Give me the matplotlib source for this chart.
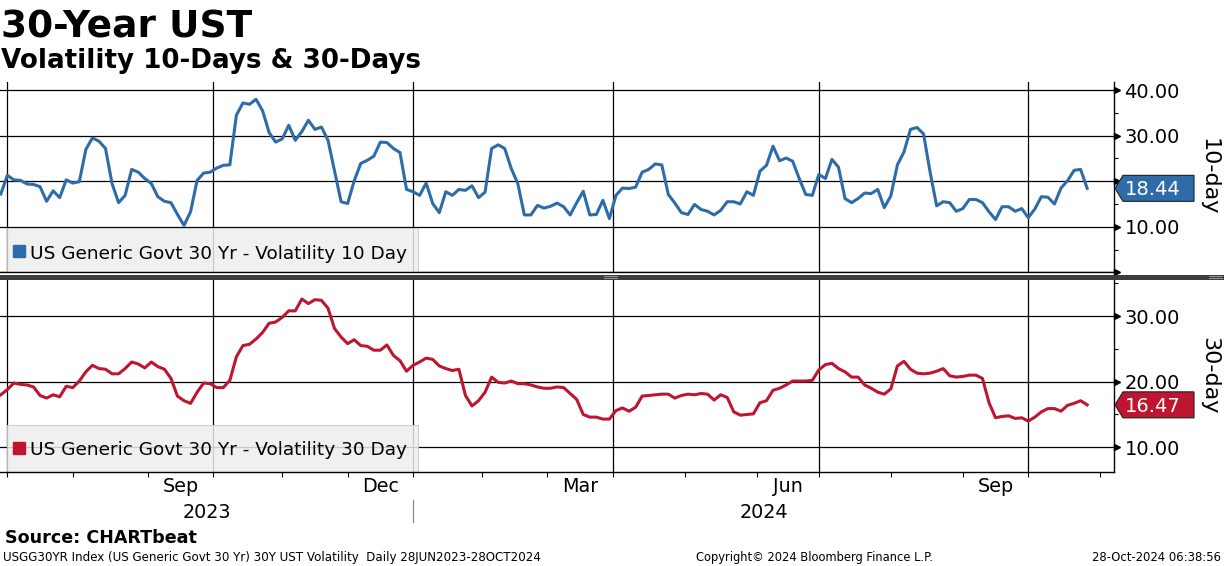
import numpy as np
import pandas as pd
import matplotlib
matplotlib.use("Agg")
import matplotlib.pyplot as plt
from matplotlib.patches import Polygon, Rectangle
from matplotlib.lines import Line2D
from matplotlib.transforms import blended_transform_factory, ScaledTranslation, IdentityTransform

plt.rcParams["font.family"] = ["DejaVu Sans"]

W, H, DPI = 1224, 566, 100

# bond market closures - bloomberg leaves them off the time axis
holidays = ["2023-07-04", "2023-09-04", "2023-10-09", "2023-11-10", "2023-11-23",
            "2023-12-25", "2024-01-01", "2024-01-15", "2024-02-19", "2024-03-29",
            "2024-05-27", "2024-06-19", "2024-07-04", "2024-09-02", "2024-10-14",
            "2024-11-11", "2024-11-28"]
first_day, last_day = "2023-06-28", "2024-10-28"

# every other trading day, last point = 28 Oct 2024
vol10 = [17.2, 21.3, 20.3, 20.2, 19.4, 19.3, 18.8, 15.6, 17.9, 16.4,
         20.3, 19.6, 19.9, 27.0, 29.5, 28.8, 27.2, 19.5, 15.3, 16.9,
         22.6, 22.0, 20.6, 19.5, 16.6, 15.6, 15.3, 12.7, 10.3, 13.3,
         20.2, 21.8, 22.0, 22.9, 23.5, 23.6, 34.5, 37.2, 36.9, 38.0,
         35.5, 30.7, 28.6, 29.3, 32.3, 29.0, 30.9, 33.4, 31.4, 31.9,
         29.0, 22.2, 15.5, 15.1, 20.1, 23.9, 24.6, 25.5, 28.6, 28.5,
         27.2, 26.3, 18.2, 17.7, 16.9, 19.6, 15.1, 13.1, 17.7, 16.9,
         18.2, 18.0, 19.0, 16.4, 17.6, 27.2, 28.0, 27.2, 22.8, 19.5,
         12.6, 12.6, 14.7, 14.1, 14.5, 15.2, 14.4, 12.6, 15.3, 17.8,
         12.6, 12.7, 15.8, 11.8, 16.9, 18.5, 18.4, 18.7, 22.0, 22.6,
         23.8, 23.6, 17.1, 15.2, 13.1, 12.7, 14.9, 13.8, 13.4, 12.6,
         13.6, 15.5, 15.5, 15.0, 17.7, 16.9, 22.2, 23.5, 27.7, 24.5,
         25.1, 24.4, 20.6, 17.1, 16.9, 21.5, 20.6, 24.8, 23.1, 16.2,
         15.3, 16.2, 17.4, 17.3, 18.2, 14.2, 16.8, 23.6, 26.4, 31.4,
         31.8, 30.4, 22.0, 14.6, 15.5, 15.3, 13.4, 14.0, 16.0, 16.0,
         15.3, 13.3, 11.6, 14.4, 14.4, 13.4, 14.0, 12.0, 13.9, 16.6,
         16.5, 15.0, 18.5, 20.1, 22.4, 22.6, 18.44]
vol30 = [18.0, 18.8, 19.8, 19.6, 19.5, 19.2, 17.9, 17.5, 18.0, 17.7,
         19.3, 19.1, 20.1, 21.5, 22.5, 22.0, 21.9, 21.2, 21.2, 22.0,
         23.0, 22.7, 22.1, 23.0, 22.3, 21.9, 20.5, 17.8, 17.1, 16.7,
         18.4, 19.8, 19.7, 19.1, 19.1, 20.2, 23.8, 25.5, 25.7, 26.5,
         27.5, 28.9, 29.1, 29.8, 30.8, 30.8, 32.6, 31.9, 32.5, 32.4,
         31.2, 28.1, 26.8, 25.8, 26.4, 25.5, 25.4, 24.8, 24.8, 25.6,
         24.0, 23.2, 21.6, 22.5, 23.0, 23.6, 23.4, 22.4, 22.0, 21.7,
         21.9, 17.9, 16.3, 17.1, 18.4, 20.7, 19.9, 19.8, 20.1, 19.7,
         19.7, 19.5, 19.2, 19.0, 19.0, 19.2, 19.1, 18.2, 17.3, 15.0,
         14.6, 14.6, 14.3, 14.3, 15.6, 16.0, 15.5, 16.1, 17.8, 17.9,
         18.0, 18.1, 18.1, 17.5, 17.9, 18.1, 18.0, 18.2, 18.1, 17.2,
         18.0, 17.6, 15.4, 14.9, 15.0, 15.1, 16.8, 17.1, 18.7, 19.0,
         19.5, 20.1, 20.1, 20.1, 20.2, 21.8, 22.6, 22.8, 22.0, 21.5,
         20.7, 20.7, 19.5, 19.0, 18.4, 18.1, 18.9, 22.4, 23.1, 21.9,
         21.3, 21.2, 21.3, 21.6, 22.0, 20.9, 20.7, 20.8, 21.0, 21.0,
         20.5, 16.8, 14.5, 14.7, 14.8, 14.4, 14.5, 14.0, 14.6, 15.4,
         15.9, 15.9, 15.5, 16.4, 16.7, 17.1, 16.47]

label_months = ["2023-09", "2023-12", "2024-03", "2024-06", "2024-09"]
years = ["2023", "2024"]
ticks10, minor10 = [0, 10, 20, 30, 40], [5, 15, 25, 35]
ticks30, minor30 = [10, 20, 30], [15, 25, 35]
name10 = "US Generic Govt 30 Yr - Volatility 10 Day"
name30 = "US Generic Govt 30 Yr - Volatility 30 Day"

BLUE = "#2e6ca9"
RED = "#be1630"

days = pd.date_range(first_day, "2024-11-29",
                     freq=pd.offsets.CustomBusinessDay(holidays=holidays))
last = days.get_loc(pd.Timestamp(last_day))
x10 = np.arange(last - 2 * (len(vol10) - 1), last + 1, 2)
x30 = np.arange(last - 2 * (len(vol30) - 1), last + 1, 2)

month_starts = pd.date_range("2023-07-01", "2024-11-01", freq="MS")
month_pos = days.searchsorted(month_starts)
quarter_pos = month_pos[month_starts.month % 3 == 1]
jan_pos = days.searchsorted(pd.Timestamp("2024-01-01"))
XLIM = (0.76, 341.2)

fig = plt.figure(figsize=(W / DPI, H / DPI), dpi=DPI)


def axes_px(top, bottom):
    return fig.add_axes([0, 1 - bottom / H, 1114 / W, (bottom - top) / H])


def ftext(x, y, s, **kw):
    fig.text(x / W, 1 - y / H, s, **kw)


def panel(ax, x, y, color, ylim, major, minor, hidden, name, box_h, sq_y, txt_y, ylabel):
    ax.plot(x, y, color=color, lw=2.2, zorder=3, solid_joinstyle="round")
    for q in quarter_pos:
        ax.axvline(q, color="black", lw=0.9, zorder=1.5)
    for s in ["top", "left"]:
        ax.spines[s].set_visible(False)
    ax.spines["right"].set_linewidth(1.0)
    ax.spines["bottom"].set_linewidth(1.0)

    ax.yaxis.tick_right()
    ax.set_yticks(major)
    # labels sitting under the value badge (or on the axis floor) are not shown
    ax.set_yticklabels(["" if v in hidden else f"{v:.2f}" for v in major])
    ax.set_yticks(minor, minor=True)
    ax.tick_params(axis="y", which="major", length=0, pad=7.5, labelsize=14)
    ax.tick_params(axis="y", which="minor", length=3, width=0.8, right=True, left=False)
    ax.grid(axis="y", which="major", color="black", lw=0.9)

    # arrow heads on the value axis
    tr = blended_transform_factory(ax.transAxes, ax.transData) + \
        ScaledTranslation(2.5 / DPI, 0, fig.dpi_scale_trans)
    ax.plot(np.ones(len(major)), major, ls="none", marker=">", ms=4.6, color="black",
            transform=tr, clip_on=False, zorder=4)

    # legend box
    ax.add_patch(Rectangle((7 / 1114, 0), 411 / 1114, box_h, transform=ax.transAxes,
                           fc="#eeeeee", ec="#c8c8c8", lw=0.8, alpha=0.85, zorder=1.7))
    ax.plot([18.5 / 1114], [sq_y], marker="s", ms=8.2, color=color, ls="none",
            transform=ax.transAxes, zorder=4, clip_on=False)
    ax.text(29.5 / 1114, txt_y, name, transform=ax.transAxes, fontsize=13.3,
            va="baseline", ha="left", zorder=4)

    ax.text(1209 / 1114, 0.5, ylabel, transform=ax.transAxes, rotation=270,
            ha="center", va="center", fontsize=16)
    ax.set_xlim(*XLIM)
    ax.set_ylim(*ylim)


def badge(ax, val, color):
    xs = ax.transAxes.transform((1, 0))[0]
    ys = ax.transData.transform((0, val))[1]
    verts = [(xs + 1, ys), (xs + 9, ys + 13), (xs + 80, ys + 13),
             (xs + 80, ys - 13), (xs + 9, ys - 13)]
    fig.add_artist(Polygon(verts, closed=True, transform=IdentityTransform(),
                           fc=color, ec="#202020", lw=0.8, zorder=5))
    fig.text(xs + 39, ys - 7, f"{val:.2f}", transform=IdentityTransform(), color="white",
             fontsize=14, ha="center", va="baseline", zorder=6)


ax1 = axes_px(82, 272.3)
ax2 = axes_px(280, 472.3)

panel(ax1, x10, vol10, BLUE, (0, 41.8), ticks10, minor10, (0, 20), name10,
      44.8 / 190.3, 0.112, 0.0715, "10-day")
panel(ax2, x30, vol30, RED, (6.19, 35.5), ticks30, minor30, (), name30,
      47.6 / 192.3, 0.127, 0.088, "30-day")

ax1.set_xticks([])
ax2.set_xticks(month_pos)
ax2.set_xticklabels([])
ax2.tick_params(axis="x", length=3.5, width=0.8, direction="out")

# month and year labels under the lower panel
bx = blended_transform_factory(ax2.transData, ax2.transAxes)
for m in label_months:
    start = pd.Timestamp(m + "-01")
    nxt = start + pd.offsets.MonthBegin(1)
    mid = (days.searchsorted(start) + days.searchsorted(nxt)) / 2
    ax2.text(mid, -0.1025, start.strftime("%b"), transform=bx, ha="center",
             va="baseline", fontsize=13.8)
year_mid = [(XLIM[0] + jan_pos) / 2, (jan_pos + XLIM[1]) / 2]
for pos, yr in zip(year_mid, years):
    ax2.text(pos, -0.239, yr, transform=bx, ha="center", va="baseline", fontsize=13.8)
ax2.add_line(Line2D([jan_pos, jan_pos], [-0.144, -0.258], transform=bx, color="#888888",
                    lw=0.9, clip_on=False))

badge(ax1, vol10[-1], BLUE)
badge(ax2, vol30[-1], RED)

# divider between the panels
fig.add_artist(Rectangle((0, H - 279.5), W, 4.5, transform=IdentityTransform(),
                         fc="#3d3d3d", ec="none", zorder=3))
for gx in (604, 1209):
    for gy in (276.4, 278.2):
        fig.add_artist(Line2D([gx, gx + 13], [H - gy, H - gy], transform=IdentityTransform(),
                              color="#a8a8a8", lw=0.6, zorder=4))

ftext(1, 37.5, "30-Year UST", fontsize=27, fontweight="bold", va="baseline")
ftext(1, 68, "Volatility 10-Days & 30-Days", fontsize=18.8, fontweight="bold", va="baseline")
ftext(5, 543, "Source: CHARTbeat", fontsize=12.6, fontweight="bold", va="baseline")
ftext(3, 561, "USGG30YR Index (US Generic Govt 30 Yr) 30Y UST Volatility  Daily 28JUN2023-28OCT2024",
      fontsize=8.6, va="baseline")
ftext(815, 561, "Copyright\u00a9 2024 Bloomberg Finance L.P.", fontsize=8.3, va="baseline", ha="center")
ftext(1221, 561, "28-Oct-2024 06:38:56", fontsize=8.4, va="baseline", ha="right")

fig.savefig("out.png", dpi=DPI)
